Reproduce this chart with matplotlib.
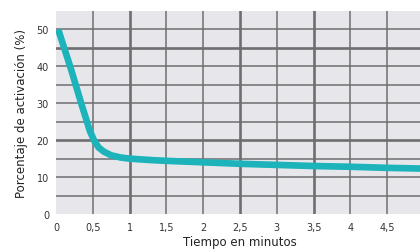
import matplotlib
matplotlib.use("Agg")
import matplotlib.pyplot as plt

# curve
tiempo = [0.03, 0.2, 0.35, 0.46, 0.52, 0.58, 0.65, 0.75, 0.88, 1.0, 1.3, 1.5, 2.0, 2.5, 3.0, 3.5, 4.0, 4.5, 5.0]
activacion = [50, 39.5, 29.5, 22.5, 19.8, 18.0, 16.9, 15.9, 15.3, 15.0, 14.6, 14.4, 14.0, 13.6, 13.3, 13.0, 12.8, 12.5, 12.3]

x_ticks = [0, 0.5, 1, 1.5, 2, 2.5, 3, 3.5, 4, 4.5, 5]
x_labels = ["0", "0,5", "1", "1,5", "2", "2,5", "3", "3,5", "4", "4,5", "5"]
y_ticks = [0, 10, 20, 30, 40, 50]
x_grid = [0.5, 1, 1.5, 2, 2.5, 3, 3.5, 4, 4.5, 5]
y_grid = [5, 10, 15, 20, 25, 30, 35, 40, 45, 50]
x_thick = [1, 2.5, 3.5]
y_thick = [20, 45]

fig = plt.figure(figsize=(4.2, 2.53), dpi=100)
ax = fig.add_axes([56 / 420, 38 / 253, (424 - 56) / 420, 203 / 253])
ax.set_facecolor("#e7e7eb")

grid_col = "#6e6e70"
for gx in x_grid:
    ax.axvline(gx, color=grid_col, lw=1.9 if gx in x_thick else 1.1, zorder=1)
for gy in y_grid:
    ax.axhline(gy, color=grid_col, lw=1.9 if gy in y_thick else 1.1, zorder=1)

ax.plot(tiempo, activacion, color="#1db3bb", lw=4.8, solid_capstyle="butt", zorder=3)

ax.set_xlim(0, 5)
ax.set_ylim(0, 55)
ax.set_xticks(x_ticks)
ax.set_xticklabels(x_labels)
ax.set_yticks(y_ticks)
ax.tick_params(length=0, labelsize=7, colors="#333333")
ax.tick_params(axis="x", pad=6)
ax.tick_params(axis="y", pad=5)
for s in ax.spines.values():
    s.set_visible(False)

ax.set_xlabel("Tiempo en minutos", fontsize=8.5, color="#222222", labelpad=2)
ax.set_ylabel("Porcentaje de activación (%)", fontsize=8.5, color="#222222", labelpad=6)

fig.savefig("out.png", dpi=100)
